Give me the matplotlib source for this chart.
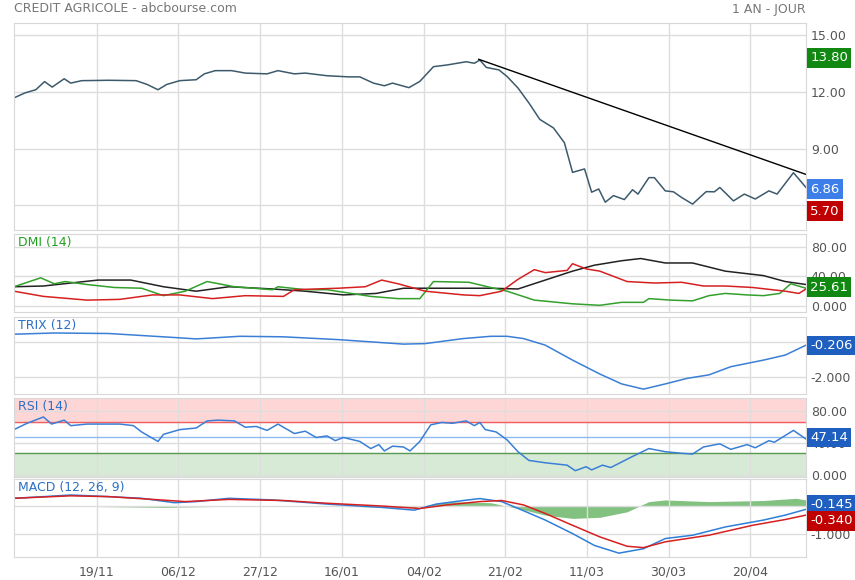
import numpy as np
import matplotlib
matplotlib.use("Agg")
import matplotlib.pyplot as plt

# time axis in chart units (tick dates sit at the positions below)
tick_pos = [178, 327, 477, 627, 777, 926, 1076, 1226, 1375]
tick_lab = ["19/11", "06/12", "27/12", "16/01", "04/02", "21/02", "11/03", "30/03", "20/04"]

price_t = [26, 46, 66, 82, 96, 118, 130, 150, 200, 250, 270, 290, 306, 330, 360, 375, 395, 425, 450, 490,
           510, 540, 560, 600, 640, 660, 685, 705, 720, 750, 770, 795, 820, 855, 870, 880, 892, 915, 930,
           950, 970, 990, 1015, 1035, 1050, 1072, 1085, 1098, 1110, 1125, 1145, 1160, 1170, 1190, 1200,
           1220, 1235, 1250, 1270, 1295, 1310, 1320, 1345, 1365, 1385, 1410, 1425, 1455, 1478]
price = [11.69, 11.95, 12.12, 12.55, 12.26, 12.7, 12.47, 12.6, 12.62, 12.6, 12.4, 12.12, 12.4, 12.6, 12.65,
         12.96, 13.13, 13.13, 13.0, 12.96, 13.13, 12.96, 13.0, 12.86, 12.8, 12.8, 12.47, 12.33, 12.47, 12.23,
         12.56, 13.34, 13.43, 13.6, 13.52, 13.69, 13.3, 13.17, 12.82, 12.21, 11.42, 10.55, 10.1, 9.32, 7.75,
         7.93, 6.7, 6.87, 6.17, 6.52, 6.31, 6.83, 6.6, 7.47, 7.47, 6.77, 6.72, 6.42, 6.07, 6.73, 6.72, 6.95,
         6.24, 6.6, 6.34, 6.77, 6.6, 7.73, 6.95]
trend_t = [878, 1478]
trend_v = [13.73, 7.64]

adx_t = [26, 80, 180, 240, 300, 360, 420, 500, 560, 630, 690, 740, 800, 900, 950, 1000, 1050, 1090, 1140,
         1175, 1220, 1270, 1330, 1400, 1440, 1478]
adx = [26, 27, 35, 35, 26, 20, 26, 23, 20, 15, 17, 24, 24, 24, 23, 35, 47, 55, 61, 64, 58, 58, 47, 41, 33, 29]
pdi_t = [26, 75, 100, 120, 160, 210, 260, 300, 340, 380, 430, 500, 510, 560, 600, 680, 730, 770, 795, 860,
         900, 930, 980, 1050, 1100, 1140, 1180, 1190, 1230, 1270, 1300, 1330, 1370, 1400, 1430, 1450, 1478]
pdi = [26, 38, 30, 33, 29, 25, 24, 14, 20, 33, 26, 22, 26, 22, 22, 13, 10, 10, 33, 32, 25, 20, 8, 3, 1, 5,
       5, 10, 8, 7, 14, 17, 15, 14, 17, 30, 24]
mdi_t = [26, 80, 160, 220, 280, 330, 390, 450, 520, 540, 620, 670, 700, 730, 780, 850, 880, 920, 950, 980,
         1000, 1040, 1050, 1075, 1100, 1150, 1200, 1250, 1290, 1330, 1380, 1440, 1465, 1478]
mdi = [20, 13, 8, 9, 15, 15, 10, 14, 13, 22, 24, 26, 35, 30, 20, 15, 14, 20, 36, 49, 45, 48, 57, 50, 47, 33,
       31, 32, 27, 27, 25, 20, 17, 23]

trix_t = [26, 100, 200, 320, 360, 440, 520, 620, 740, 780, 850, 900, 930, 960, 1000, 1050, 1100, 1140, 1180,
          1220, 1260, 1300, 1340, 1400, 1440, 1478]
trix = [0.44, 0.51, 0.48, 0.25, 0.17, 0.32, 0.29, 0.13, -0.13, -0.1, 0.19, 0.32, 0.32, 0.19, -0.19, -1.05,
        -1.85, -2.42, -2.72, -2.42, -2.1, -1.9, -1.43, -1.05, -0.76, -0.19]

rsi_t = [26, 50, 80, 95, 118, 130, 160, 220, 245, 260, 290, 300, 330, 360, 380, 400, 430, 450, 470, 490, 510,
         540, 560, 580, 600, 615, 630, 660, 680, 695, 705, 720, 740, 752, 770, 790, 810, 830, 855, 870, 880,
         890, 910, 930, 950, 970, 1000, 1040, 1055, 1075, 1085, 1105, 1120, 1140, 1160, 1190, 1220, 1250,
         1270, 1290, 1320, 1340, 1370, 1385, 1410, 1420, 1455, 1478]
rsi = [57, 65, 73, 64, 69, 62, 64, 64, 62, 54, 42, 51, 57, 59, 68, 69, 68, 60, 61, 56, 64, 52, 55, 47, 49,
       43, 47, 42, 33, 38, 30, 36, 35, 30, 42, 63, 66, 65, 68, 62, 66, 57, 54, 44, 29, 18, 15, 12, 5, 10, 6,
       12, 9, 16, 23, 33, 29, 27, 26, 35, 39, 32, 38, 34, 43, 41, 56, 45]
rsi_high, rsi_low, rsi_last = 66.5, 27.0, 47.14

macd_t = [26, 80, 130, 200, 260, 320, 360, 420, 500, 600, 700, 760, 800, 850, 880, 920, 960, 1000, 1050,
          1090, 1135, 1180, 1220, 1270, 1330, 1400, 1440, 1478]
macd = [0.28, 0.34, 0.4, 0.34, 0.28, 0.12, 0.16, 0.28, 0.22, 0.07, -0.05, -0.15, 0.07, 0.2, 0.27, 0.16,
        -0.17, -0.51, -1.0, -1.43, -1.71, -1.55, -1.18, -1.06, -0.76, -0.51, -0.33, -0.12]
sig_t = [26, 130, 200, 280, 340, 420, 520, 600, 700, 770, 820, 880, 920, 960, 1000, 1050, 1100, 1150, 1180,
         1220, 1300, 1380, 1440, 1478]
signal = [0.28, 0.37, 0.34, 0.24, 0.16, 0.24, 0.2, 0.1, 0.0, -0.09, 0.04, 0.16, 0.2, 0.04, -0.27, -0.7,
          -1.12, -1.46, -1.51, -1.3, -1.06, -0.7, -0.49, -0.33]
hist_t = [26, 300, 500, 760, 820, 900, 950, 1000, 1050, 1100, 1150, 1190, 1220, 1300, 1400, 1460, 1478]
hist = [0.02, -0.05, 0.02, -0.05, 0.16, 0.12, -0.09, -0.33, -0.45, -0.41, -0.21, 0.16, 0.22, 0.16, 0.2,
        0.28, 0.22]

W, H = 855, 580
fig = plt.figure(figsize=(W / 100, H / 100), dpi=100)
GRID = "#dddddd"
TXT = "#555555"

def make_ax(top, bot):
    ax = fig.add_axes([14 / W, 1 - bot / H, (806 - 14) / W, (bot - top) / H])
    ax.set_xlim(26, 1478)
    ax.set_xticks(tick_pos)
    ax.set_xticklabels([])
    ax.tick_params(length=0, labelsize=9, colors=TXT)
    ax.grid(True, color=GRID, lw=1)
    ax.yaxis.tick_right()
    for s in ax.spines.values():
        s.set_color("#d8d8d8")
    return ax

def badge(ax, y, text, color, dy=0):
    ax.annotate(text, xy=(1, y), xycoords=("axes fraction", "data"), xytext=(3, dy),
                textcoords="offset points", va="center", ha="left", color="white", fontsize=9.5,
                bbox=dict(boxstyle="square,pad=0.25", fc=color, ec="none"), annotation_clip=False)

def panel_title(ax, text, color):
    ax.text(0.005, 0.97, text, transform=ax.transAxes, va="top", ha="left", color=color, fontsize=9)

# price
ax = make_ax(23, 230)
ax.set_ylim(4.7, 15.65)
ax.set_yticks([6, 9, 12, 15])
ax.set_yticklabels(["6.00", "9.00", "12.00", "15.00"])
ax.plot(price_t, price, color="#3d5a6c", lw=1.1)
ax.plot(trend_t, trend_v, color="black", lw=1)
badge(ax, 13.80, "13.80", "#118811")
badge(ax, 6.86, "6.86", "#3d7ee8")
badge(ax, 5.70, "5.70", "#c00000")
fig.text(14 / W, 1 - 9 / H, "CREDIT AGRICOLE - abcbourse.com", color="#777777", fontsize=9, va="center")
fig.text(806 / W, 1 - 9 / H, "1 AN - JOUR", color="#777777", fontsize=9, va="center", ha="right")

# DMI
ax = make_ax(234, 312)
ax.set_ylim(-8, 97)
ax.set_yticks([0, 40, 80])
ax.set_yticklabels(["0.000", "40.00", "80.00"])
ax.plot(adx_t, adx, color="#222222", lw=1.1)
ax.plot(pdi_t, pdi, color="#33a02c", lw=1.1)
ax.plot(mdi_t, mdi, color="#d62020", lw=1.1)
panel_title(ax, "DMI (14)", "#22a022")
badge(ax, 25.61, "25.61", "#118811")

# TRIX
ax = make_ax(317, 394)
ax.set_ylim(-3.0, 1.43)
ax.set_yticks([-2, 0])
ax.set_yticklabels(["-2.000", ""])
ax.plot(trix_t, trix, color="#3a7fd5", lw=1.1)
panel_title(ax, "TRIX (12)", "#2a6fc5")
badge(ax, -0.206, "-0.206", "#1f5fbf")

# RSI
ax = make_ax(398, 477)
ax.set_ylim(-3, 97)
ax.set_yticks([0, 40, 80])
ax.set_yticklabels(["0.000", "40.00", "80.00"])
ax.axhspan(rsi_high, 97, color="#ffd6d6", zorder=0)
ax.axhspan(-3, rsi_low, color="#d7ead5", zorder=0)
ax.axhline(rsi_high, color="#f06060", lw=1)
ax.axhline(rsi_low, color="#5a9a55", lw=1)
ax.axhline(rsi_last, color="#8fb8ee", lw=1)
ax.plot(rsi_t, rsi, color="#3a7fd5", lw=1.1)
panel_title(ax, "RSI (14)", "#2a6fc5")
badge(ax, rsi_last, "47.14", "#1f5fbf")

# MACD
ax = make_ax(479, 557)
ax.set_ylim(-1.85, 0.98)
ax.set_yticks([-1, 0])
ax.set_yticklabels(["-1.000", ""])
ax.fill_between(hist_t, 0, hist, color="#5aad55", alpha=0.75, lw=0)
ax.plot(macd_t, macd, color="#2f7fd8", lw=1.1)
ax.plot(sig_t, signal, color="#d62020", lw=1.1)
panel_title(ax, "MACD (12, 26, 9)", "#2a6fc5")
badge(ax, -0.145, "-0.145", "#1f5fbf", dy=4)
badge(ax, -0.340, "-0.340", "#c00000", dy=-4)
ax.set_xticklabels(tick_lab)
ax.tick_params(axis="x", pad=6)

fig.savefig("out.png", dpi=100)
